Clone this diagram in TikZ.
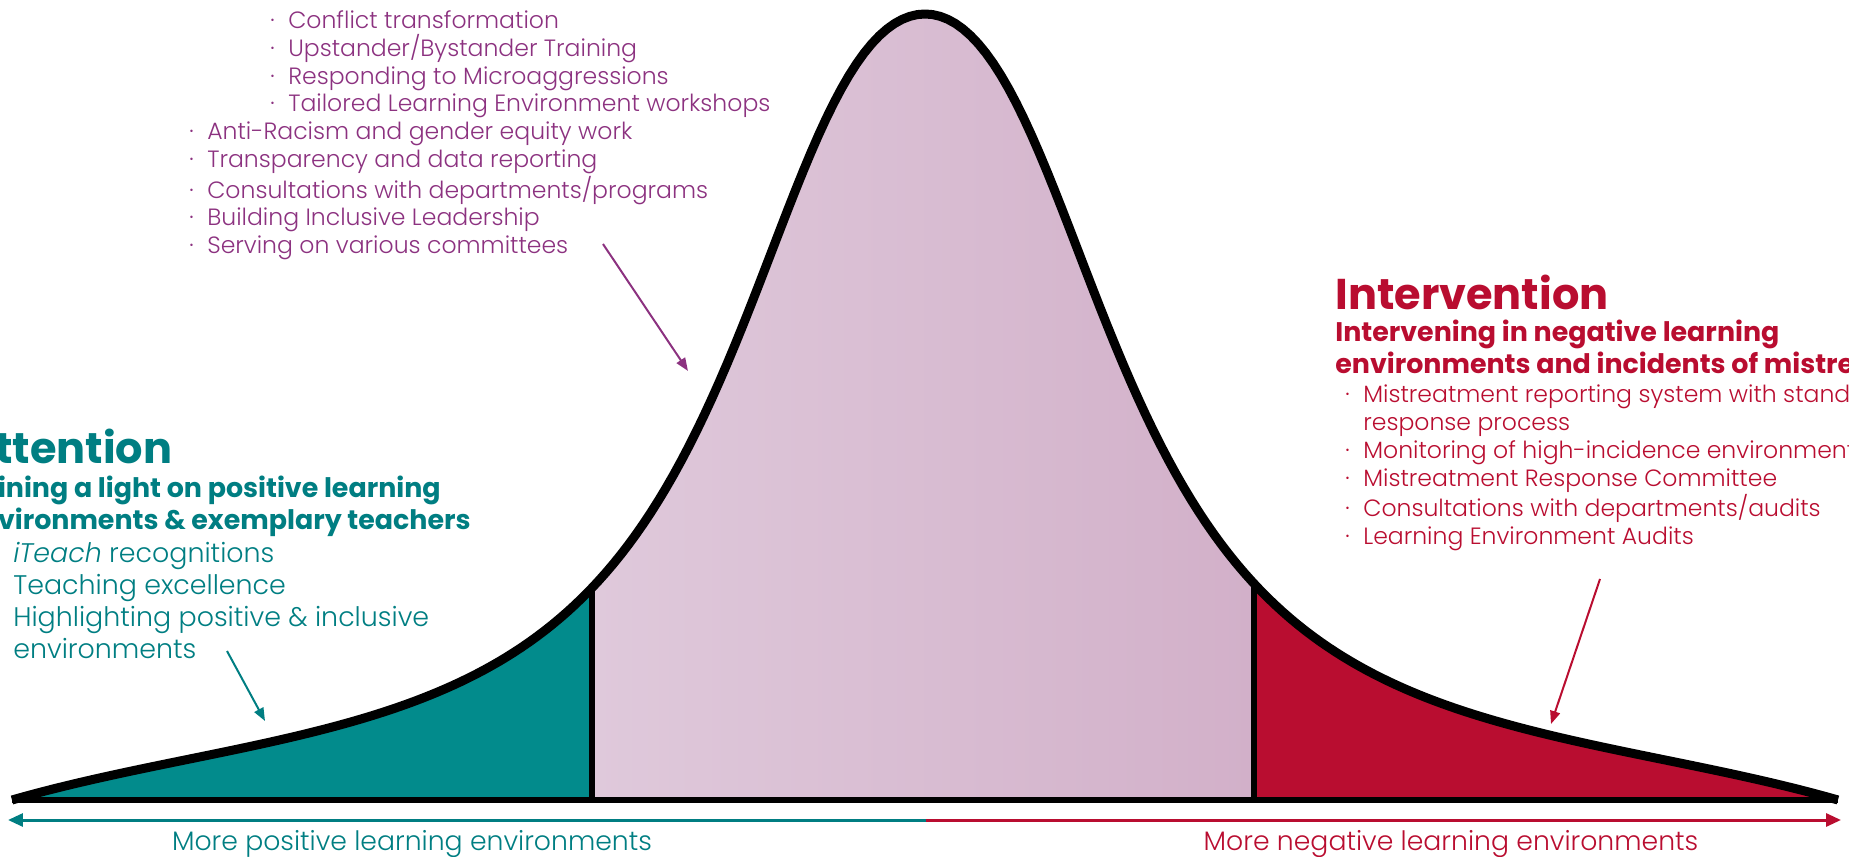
\documentclass[tikz,border=0pt]{standalone}
\usepackage{fontspec}
\IfFontExistsTF{Poppins Light}
  {\setmainfont{Poppins}[UprightFont=* Light,ItalicFont=* Light Italic,
     BoldFont=* Bold,BoldItalicFont=* Bold Italic]}
  {\setmainfont{Poppins}}
\usetikzlibrary{arrows.meta,positioning}
\definecolor{lePurple}{RGB}{140,50,128}
\definecolor{leTeal}{RGB}{0,126,130}
\definecolor{tealFill}{RGB}{2,139,140}
\definecolor{leRed}{RGB}{185,13,48}
\definecolor{mauveL}{RGB}{223,201,219}
\definecolor{mauveR}{RGB}{210,176,201}

% bullet with hanging gap
\newcommand\bul[1]{\makebox[0.36cm][l]{·}#1}
\newcommand\tbul[1]{\makebox[0.4cm][l]{·}#1}
% the distribution outline (u in hundreds of pixels), tapered to the ends
\newcommand\bellcurve{plot[domain=-9.13:9.13,samples=241,variable=\u]
  ({925+100*\u},{800-786*(1-(abs(\u)/9.13)^8)/sqrt(1+0.26*\u*\u+0.08*\u*\u*\u*\u)})}

\begin{document}
\begin{tikzpicture}[x=0.02cm,y=-0.02cm,
  bell/.style={line width=0.18cm,line join=round},
  divider/.style={line width=0.11cm},
  axisline/.style={line width=0.06cm},
  pointer/.style={line width=0.04cm,-{Triangle[length=0.26cm,width=0.2cm]}},
  blk/.style={inner sep=0pt,align=left,anchor=north west},
  body/.style={blk,font=\fontsize{13.4}{15.9}\selectfont},
  tbody/.style={blk,font=\fontsize{15.3}{18.2}\selectfont},
  ttl/.style={blk,font=\fontsize{24.5}{28}\selectfont\bfseries},
  subhead/.style={blk,font=\fontsize{15.3}{18}\selectfont\bfseries},
  axlbl/.style={inner sep=0pt,font=\fontsize{15.2}{17}\selectfont}]
\useasboundingbox (0,0) rectangle (1849,857);

% three zones under the curve
\begin{scope}
  \clip \bellcurve -- cycle;
  \fill[tealFill] (0,0) rectangle (592,800);
  \shade[left color=mauveL,right color=mauveR] (592,0) rectangle (1254,800);
  \fill[leRed] (1254,0) rectangle (1849,800);
  \draw[divider] (592,0) -- (592,800);
  \draw[divider] (1254,0) -- (1254,800);
\end{scope}
\draw[bell] \bellcurve;
\draw[line width=0.13cm] (12,800) -- (1838,800);

% axis underneath
\coordinate (axL) at (8,820);
\coordinate (axM) at (926,820);
\coordinate (axR) at (1841,820);
\draw[axisline,leTeal,-{Triangle[length=0.3cm,width=0.26cm]}] (axM) -- (axL);
\draw[axisline,leRed,-{Triangle[length=0.3cm,width=0.26cm]}] (axM) -- (axR);
\node[axlbl,text=leTeal] (posLbl) at (412,844) {More positive learning environments};
\node[axlbl,text=leRed] (negLbl) at (1451,844) {More negative learning environments};

% middle: programs
\node[body,text=lePurple] (pgm) at (189,10) {%
  \hspace*{1.62cm}\bul{Conflict transformation}\\
  \hspace*{1.62cm}\bul{Upstander/Bystander Training}\\
  \hspace*{1.62cm}\bul{Responding to Microaggressions}\\
  \hspace*{1.62cm}\bul{Tailored Learning Environment workshops}\\
  \bul{Anti-Racism and gender equity work}\\
  \bul{Transparency and data reporting}\\
  \bul{Consultations with departments/programs}\\
  \bul{Building Inclusive Leadership}\\
  \bul{Serving on various committees}};

% left: attention
\node[ttl,text=leTeal] (attn) at (-37,429) {Attention};
\node[subhead,text=leTeal,below=0.22cm of attn.south west,anchor=north west] (attnSub)
  {Shining a light on positive learning\\environments \& exemplary teachers};
\node[tbody,text=leTeal,below=0.1cm of attnSub.south west,anchor=north west,xshift=0.6cm] (attnList) {%
  \tbul{\textit{iTeach} recognitions}\\
  \tbul{Teaching excellence}\\
  \tbul{Highlighting positive \& inclusive}\\
  \hspace*{0.4cm}environments};

% right: intervention
\node[ttl,text=leRed] (intv) at (1335,275) {Intervention};
\node[subhead,text=leRed,below=0.18cm of intv.south west,anchor=north west] (intvSub)
  {Intervening in negative learning\\environments and incidents of mistreatment};
\node[body,text=leRed,below=0.22cm of intvSub.south west,anchor=north west,xshift=0.2cm] (intvList) {%
  \bul{Mistreatment reporting system with standardized}\\
  \hspace*{0.36cm}response process\\
  \bul{Monitoring of high-incidence environments}\\
  \bul{Mistreatment Response Committee}\\
  \bul{Consultations with departments/audits}\\
  \bul{Learning Environment Audits}};

% pointers into the zones
\coordinate (pgmTail) at (603,244);
\coordinate (pgmTip) at (688,371);
\coordinate (attnTail) at (227,651);
\coordinate (attnTip) at (265,721);
\coordinate (intvTail) at (1600,579);
\coordinate (intvTip) at (1551,724);
\draw[pointer,lePurple] (pgmTail) -- (pgmTip);
\draw[pointer,leTeal] (attnTail) -- (attnTip);
\draw[pointer,leRed] (intvTail) -- (intvTip);
\end{tikzpicture}
\end{document}
